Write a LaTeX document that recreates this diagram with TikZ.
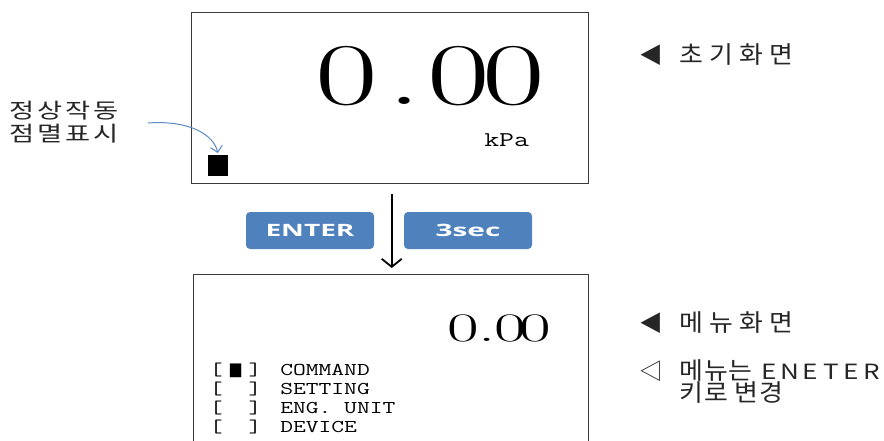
\documentclass[tikz,border=0pt]{standalone}
\usepackage{fontspec}
\usepackage{graphicx}
\usetikzlibrary{arrows.meta}
\newfontfamily\krfont{Noto Sans CJK KR}
\newfontfamily\btnfont{Open Sans}
\newfontfamily\symfont{DejaVu Sans}
\newfontfamily\dispfont{lmroman17-regular.otf}
\newcommand\kc[1]{\makebox[23.1pt][c]{#1}}
\newcommand\kw[1]{\makebox[27.8pt][c]{#1}}
\newcommand\kq[1]{\makebox[21.5pt][c]{#1}}
\newcommand\kl[1]{\makebox[19pt][c]{\scalebox{1.15}[1]{\fontsize{21}{22}\selectfont #1}}}
\newcommand\kt[1]{\makebox[36.2pt][l]{\fontsize{22}{22}\selectfont #1}}
\newcommand\kT[1]{\makebox[33.9pt][l]{\fontsize{22}{22}\selectfont #1}}
\newcommand\dg[1]{\makebox[0pt][c]{#1}}
\definecolor{btnblue}{HTML}{4F81BD}
\definecolor{boxgray}{HTML}{3A3A3A}
\definecolor{curveblue}{HTML}{5B8AC4}
\tikzset{
  lcd/.style={draw=boxgray, line width=1.4pt, inner sep=0pt},
  krlabel/.style={inner sep=0pt, anchor=base west, xscale=1.08, text=black!85,
    font=\krfont\fontsize{24}{22}\selectfont, align=left},
  mono/.style={inner sep=0pt, anchor=base west, xscale=1.38,
    font=\ttfamily\fontsize{18}{19}\selectfont},
  btnbox/.style={fill=btnblue, rounded corners=4pt, minimum width=128pt,
    minimum height=37pt, inner sep=0pt, text=white,
    font=\btnfont\bfseries\fontsize{17}{17}\selectfont},
  bigdigits/.style={inner sep=0pt, anchor=base west}
}
\begin{document}
\begin{tikzpicture}[x=1pt,y=-1pt]
\clip (0,0) rectangle (884,441);
\fill[white] (0,0) rectangle (884,441);

% initial screen
\node[lcd, minimum width=397pt, minimum height=171pt, anchor=north west] (top) at (191,12) {};
\node[bigdigits, xscale=1.55, font=\dispfont\fontsize{88}{88}\selectfont] (val) at (346,105)
  {\dg{0}\kern37.4pt\dg{.}\kern35.2pt\dg{0}\kern35.5pt\dg{0}};
\node[mono, font=\ttfamily\fontsize{21}{21}\selectfont] (unit) at (484,147) {kPa};
\node[fill=black, minimum width=20pt, minimum height=21pt, inner sep=0pt, anchor=north west] (ind) at (208,155) {};

% status label and curved arrow
\node[inner sep=0pt, anchor=base west, xscale=1.3, text=black!85, align=left,
  font=\krfont\fontsize{21}{23}\selectfont] (status) at (8,142)
  {\kq{정}\kq{상}\kq{작}\kq{동}\\\kq{점}\kq{멸}\kq{표}\kq{시}};
\coordinate (cs) at (148,123);
\draw[curveblue, line width=1pt, -{Straight Barb[length=6pt,width=12pt]}, shorten >=2pt]
  (cs) .. controls (190,120) and (214,135) .. (ind.north);

% transition
\node[btnbox] (enter) at (310,230.5) {\scalebox{1.65}[1]{ENTER}};
\node[btnbox] (sec) at (468,230.5) {\scalebox{1.75}[1]{3sec}};
\draw[line width=1.8pt, -{Straight Barb[length=8pt,width=20pt]}, shorten <=10pt, shorten >=6pt]
  ([xshift=1.5pt]top.south) -- ([xshift=1.5pt]top.south |- 0,274);

% menu screen
\node[lcd, minimum width=395pt, minimum height=200pt, anchor=north west] (menu) at (193,274) {};
\node[bigdigits, xscale=1.7, font=\dispfont\fontsize{40.5}{40.5}\selectfont] (mval) at (462.5,341)
  {\dg{0}\kern14.41pt\dg{.}\kern13.53pt\dg{0}\kern14.71pt\dg{0}};
\node[mono] (b1) at (209.5,375) {[\makebox[18.9pt]{\scalebox{0.6}[1]{\symfont ■}}]};
\node[mono] (b2) at (209.5,394) {[\makebox[18.9pt]{}]};
\node[mono] (b3) at (209.5,413) {[\makebox[18.9pt]{}]};
\node[mono] (b4) at (209.5,432) {[\makebox[18.9pt]{}]};
\node[mono] (m1) at (280,375) {COMMAND};
\node[mono] (m2) at (280,394) {SETTING};
\node[mono] (m3) at (280,413) {ENG. UNIT};
\node[mono] (m4) at (280,432) {DEVICE};

% right notes
\node[krlabel] (l1) at (639.2,64) {\kT{◀ }\kw{초}\kw{기}\kw{화}\kw{면}};
\node[krlabel] (l2) at (639.2,331) {\kT{◀ }\kw{메}\kw{뉴}\kw{화}\kw{면}};
\node[krlabel] (l3) at (639.2,401)
  {\kt{◁ }\kc{메}\kc{뉴}\kc{는} \kl{E}\kl{N}\kl{E}\kl{T}\kl{E}\kl{R}\\\kt{}\kc{키}\kc{로} \kc{변}\kc{경}};
\end{tikzpicture}
\end{document}
